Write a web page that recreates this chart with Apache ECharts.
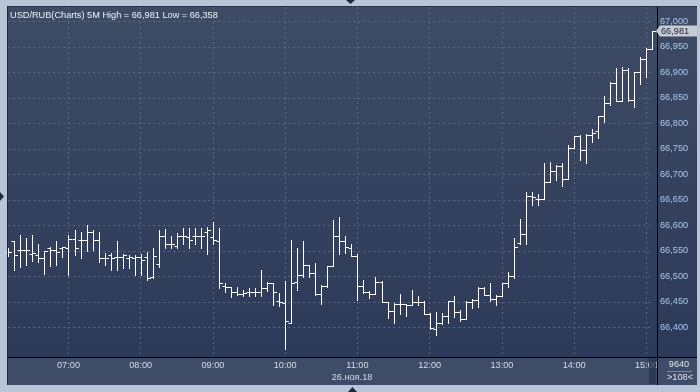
<!DOCTYPE html>
<html><head><meta charset="utf-8">
<script src="https://cdn.jsdelivr.net/npm/echarts@6/dist/echarts.min.js"></script>
<style>html,body{margin:0;padding:0;background:#b9c5d6}#c{width:700px;height:392px}</style>
</head><body><div id="c"></div>
<script>
// ---- data ----
const times = [
"06:10","06:15","06:20","06:25","06:30","06:35","06:40","06:45","06:50","06:55",
"07:00","07:05","07:10","07:15","07:20","07:25","07:30","07:35","07:40","07:45","07:50","07:55",
"08:00","08:05","08:10","08:15","08:20","08:25","08:30","08:35","08:40","08:45","08:50","08:55",
"09:00","09:05","09:10","09:15","09:20","09:25","09:30","09:35","09:40","09:45","09:50","09:55",
"10:00","10:05","10:10","10:15","10:20","10:25","10:30","10:35","10:40","10:45","10:50","10:55",
"11:00","11:05","11:10","11:15","11:20","11:25","11:30","11:35","11:40","11:45","11:50","11:55",
"12:00","12:05","12:10","12:15","12:20","12:25","12:30","12:35","12:40","12:45","12:50","12:55",
"13:00","13:05","13:10","13:15","13:20","13:25","13:30","13:35","13:40","13:45","13:50","13:55",
"14:00","14:05","14:10","14:15","14:20","14:25","14:30","14:35","14:40","14:45","14:50","14:55",
"15:00","15:05"];
const hourLabels = ["07:00","08:00","09:00","10:00","11:00","12:00","13:00","14:00","15:00"];
const yTicks = [66.40,66.45,66.50,66.55,66.60,66.65,66.70,66.75,66.80,66.85,66.90,66.95,67.00];
const open = [
66.548,66.569,66.551,66.551,66.544,66.542,66.536,66.555,66.551,66.555,
66.555,66.574,66.572,66.572,66.587,66.571,66.535,66.541,66.538,66.538,66.535,66.535,
66.537,66.537,66.498,66.525,66.580,66.563,66.560,66.580,66.577,66.579,66.579,66.587,
66.577,66.569,66.481,66.480,66.469,66.465,66.469,66.470,66.470,66.478,66.486,66.452,
66.448,66.408,66.488,66.502,66.522,66.507,66.466,66.481,66.520,66.580,66.570,66.555,
66.540,66.481,66.469,66.466,66.489,66.450,66.432,66.445,66.445,66.443,66.450,66.450,
66.426,66.397,66.409,66.423,66.452,66.431,66.416,66.450,66.454,66.478,66.463,66.455,
66.462,66.486,66.500,66.566,66.583,66.658,66.652,66.652,66.685,66.706,66.716,66.691,
66.751,66.776,66.748,66.778,66.784,66.814,66.840,66.879,66.843,66.905,66.846,66.901,
66.926,66.946];
const high = [
66.556,66.569,66.581,66.576,66.581,66.563,66.549,66.558,66.569,66.558,
66.581,66.590,66.587,66.600,66.590,66.587,66.545,66.545,66.569,66.543,66.542,66.542,
66.544,66.547,66.556,66.590,66.592,66.580,66.584,66.595,66.594,66.595,66.595,66.597,
66.606,66.595,66.486,66.480,66.480,66.473,66.478,66.478,66.512,66.489,66.486,66.468,
66.490,66.572,66.556,66.570,66.522,66.527,66.483,66.520,66.610,66.617,66.579,66.563,
66.544,66.492,66.471,66.498,66.490,66.450,66.448,66.465,66.445,66.473,66.462,66.452,
66.428,66.430,66.428,66.452,66.462,66.433,66.451,66.455,66.480,66.480,66.486,66.464,
66.486,66.508,66.575,66.612,66.665,66.665,66.662,66.722,66.724,66.719,66.722,66.758,
66.776,66.777,66.779,66.789,66.815,66.853,66.881,66.908,66.911,66.908,66.901,66.929,
66.948,66.981];
const low = [
66.540,66.512,66.519,66.522,66.530,66.529,66.505,66.521,66.522,66.538,
66.503,66.541,66.535,66.549,66.551,66.529,66.522,66.512,66.512,66.516,66.516,66.503,
66.503,66.493,66.496,66.518,66.555,66.555,66.555,66.564,66.556,66.564,66.555,66.543,
66.564,66.477,66.469,66.460,66.464,66.462,66.462,66.462,66.462,66.472,66.444,66.442,
66.358,66.408,66.473,66.499,66.499,66.464,66.445,66.479,66.520,66.544,66.546,66.540,
66.453,66.468,66.457,66.466,66.449,66.418,66.408,66.427,66.423,66.443,66.443,66.426,
66.397,66.384,66.406,66.408,66.420,66.413,66.416,66.437,66.439,66.463,66.452,66.444,
66.462,66.480,66.497,66.563,66.564,66.639,66.639,66.652,66.685,66.689,66.677,66.691,
66.751,66.728,66.722,66.763,66.771,66.802,66.836,66.843,66.843,66.844,66.832,66.877,
66.890,66.946];
const close = [
66.547,66.542,66.551,66.551,66.545,66.536,66.549,66.551,66.548,66.558,
66.574,66.556,66.572,66.587,66.571,66.535,66.536,66.535,66.538,66.541,66.538,66.538,
66.532,66.496,66.540,66.580,66.563,66.563,66.580,66.580,66.571,66.579,66.579,66.590,
66.571,66.486,66.480,66.469,66.465,66.467,66.470,66.470,66.478,66.487,66.470,66.450,
66.412,66.486,66.502,66.522,66.507,66.466,66.481,66.520,66.580,66.570,66.557,66.540,
66.481,66.469,66.466,66.489,66.450,66.432,66.445,66.445,66.443,66.450,66.450,66.426,
66.398,66.409,66.423,66.452,66.431,66.416,66.450,66.454,66.478,66.463,66.455,66.462,
66.486,66.500,66.558,66.583,66.657,66.656,66.652,66.685,66.706,66.716,66.691,66.751,
66.776,66.748,66.778,66.781,66.814,66.840,66.879,66.843,66.905,66.846,66.901,66.926,
66.946,66.981];
const dateLabel = "26.ноя.18";
const countLabel = "9640";
const barsLabel = ">108<";

// ---- chart ----
const FONT = 'Liberation Sans, Arial, sans-serif';
const fmt = v => v.toFixed(3).replace('.', ',');
const chart = echarts.init(document.getElementById('c'), null, {renderer: 'canvas'});
const data = times.map((t, i) => [i, open[i], high[i], low[i], close[i]]);
const hiAll = Math.max.apply(null, high), loAll = Math.min.apply(null, low);

function renderItem(params, api) {
  const i = api.value(0);
  const o = api.coord([i, api.value(1)]);
  const h = api.coord([i, api.value(2)]);
  const l = api.coord([i, api.value(3)]);
  const c = api.coord([i, api.value(4)]);
  const xc = Math.round(o[0]) + 0.5;
  const st = {stroke: '#ffffff', lineWidth: 1};
  const yo = Math.round(o[1]) + 0.5, yc = Math.round(c[1]) + 0.5;
  return {type: 'group', children: [
    {type: 'line', shape: {x1: xc, y1: Math.round(h[1]), x2: xc, y2: Math.round(l[1]) + 1}, style: st},
    {type: 'line', shape: {x1: xc - 3, y1: yo, x2: xc, y2: yo}, style: st},
    {type: 'line', shape: {x1: xc, y1: yc, x2: xc + 3.5, y2: yc}, style: st}
  ]};
}

const gridLine = {color: '#5a6883', type: [2, 3], width: 1};
chart.setOption({
  backgroundColor: '#b9c5d6',
  animation: false,
  grid: {left: 8.3, right: 47.6, top: 7, bottom: 35, containLabel: false},
  xAxis: {
    type: 'category', data: times, boundaryGap: false,
    axisLine: {show: false}, axisTick: {show: false},
    axisLabel: {interval: (i, v) => hourLabels.indexOf(v) >= 0, color: '#d5dce8', fontSize: 9.2, fontFamily: FONT, margin: 4},
    splitLine: {show: true, interval: (i, v) => hourLabels.indexOf(v) >= 0, lineStyle: gridLine}
  },
  yAxis: {
    type: 'value', position: 'right', min: 66.3418, max: 67.0280,
    axisLine: {show: false},
    axisTick: {show: false, customValues: yTicks},
    axisLabel: {customValues: yTicks, formatter: fmt, color: '#a9c8ee', fontSize: 9.2, fontFamily: FONT, margin: 7.6},
    splitLine: {show: true, lineStyle: gridLine}
  },
  series: [{type: 'custom', renderItem: renderItem, data: data, encode: {x: 0, y: [1, 2, 3, 4]}, clip: false, z: 5}]
});

const lastY = chart.convertToPixel({yAxisIndex: 0}, close[close.length - 1]);
const tagY = Math.round(lastY);
chart.setOption({
  graphic: [
    {type: 'rect', z: -10, silent: true, shape: {x: 8, y: 7, width: 689, height: 350},
      style: {fill: new echarts.graphic.LinearGradient(0, 0, 0, 1, [{offset: 0, color: '#3e4b65'}, {offset: 1, color: '#2c3a59'}])}},
    {type: 'rect', z: -10, silent: true, shape: {x: 8, y: 357, width: 689, height: 28}, style: {fill: '#3e4c67'}},
    {type: 'line', z: 100, silent: true, shape: {x1: 8, y1: 6.5, x2: 697, y2: 6.5}, style: {stroke: '#27314a', lineWidth: 1}},
    {type: 'line', z: 100, silent: true, shape: {x1: 7.5, y1: 6, x2: 7.5, y2: 385}, style: {stroke: '#1e2638', lineWidth: 1}},
    {type: 'line', z: 100, silent: true, shape: {x1: 657.5, y1: 7, x2: 657.5, y2: 385}, style: {stroke: '#000000', lineWidth: 1}},
    {type: 'line', z: 100, silent: true, shape: {x1: 8, y1: 357.5, x2: 697, y2: 357.5}, style: {stroke: '#000000', lineWidth: 1}},
    {type: 'rect', z: 100, silent: true, shape: {x: 649, y: 358, width: 7, height: 26}, style: {fill: 'rgba(40,52,80,0.75)'}},
    {type: 'polygon', z: 100, silent: true, shape: {points: [[346, 0], [355, 0], [350.5, 4]]}, style: {fill: '#1d2a40'}},
    {type: 'polygon', z: 100, silent: true, shape: {points: [[0, 192], [0, 201], [4, 196.5]]}, style: {fill: '#1d2a40'}},
    {type: 'polygon', z: 100, silent: true, shape: {points: [[348, 392], [357, 392], [352.5, 387]]}, style: {fill: '#1d2a40'}},
    {type: 'text', z: 100, silent: true, x: 10, y: 15,
      style: {text: 'USD/RUB(Charts) 5M High = ' + fmt(hiAll) + ' Low = ' + fmt(loAll), fill: '#eef2f8', font: '9.2px ' + FONT, verticalAlign: 'middle'}},
    {type: 'text', z: 100, silent: true, x: 352, y: 377.5,
      style: {text: dateLabel, fill: '#d5dce8', font: '9.2px ' + FONT, align: 'center', verticalAlign: 'middle'}},
    {type: 'text', z: 100, silent: true, x: 679, y: 364.5,
      style: {text: countLabel, fill: '#dfe5ee', font: '9.2px ' + FONT, align: 'center', verticalAlign: 'middle'}},
    {type: 'line', z: 100, silent: true, shape: {x1: 667, y1: 371.5, x2: 692, y2: 371.5}, style: {stroke: '#7a879e', lineWidth: 1}},
    {type: 'text', z: 100, silent: true, x: 680, y: 377.5,
      style: {text: barsLabel, fill: '#dfe5ee', font: '9.2px ' + FONT, align: 'center', verticalAlign: 'middle'}},
    {type: 'polygon', z: 110, silent: true, shape: {points: [[656, tagY], [660, tagY - 5.5], [697, tagY - 5.5], [697, tagY + 5.5], [660, tagY + 5.5]]},
      style: {fill: '#c6cbd4'}},
    {type: 'text', z: 111, silent: true, x: 661, y: tagY + 0.5,
      style: {text: fmt(close[close.length - 1]), fill: '#1c2232', font: '9.2px ' + FONT, verticalAlign: 'middle'}}
  ]
});
</script>
</body></html>
